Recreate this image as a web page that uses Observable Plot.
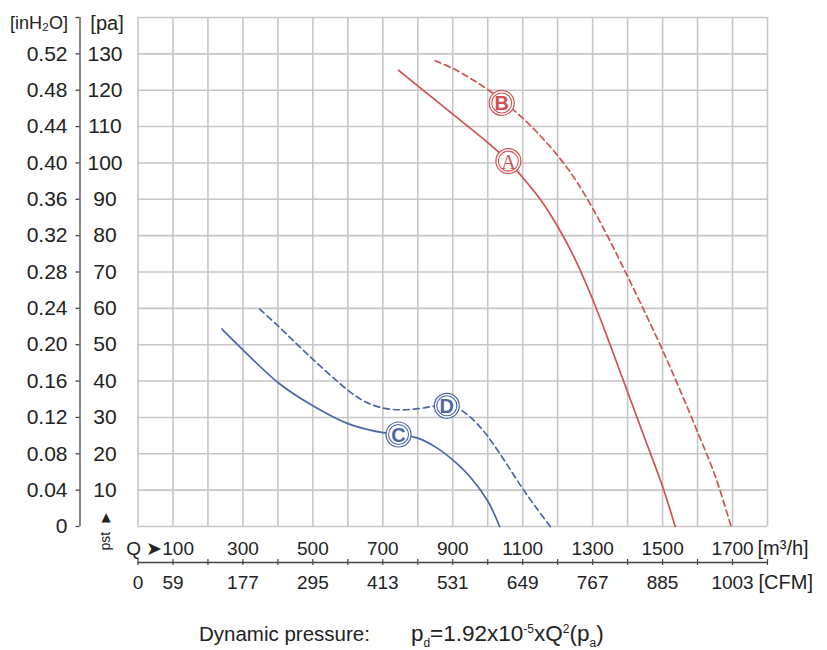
<!DOCTYPE html>
<html>
<head>
<meta charset="utf-8">
<script src="https://cdn.jsdelivr.net/npm/d3@7"></script>
<script src="https://cdn.jsdelivr.net/npm/@observablehq/plot@0.6"></script>
<style>
  html, body { margin: 0; padding: 0; background: #fff; }
  #chart svg { display: block; }
  #caption { font-family: "Liberation Sans", Arial, sans-serif; font-size: 20.5px; color: #222;
             text-align: left; width: 827px; margin-top: 17px; line-height: 22px; padding-left: 199px; box-sizing: border-box; white-space: nowrap; }
  #caption .f { font-size: 22.5px; }
  #caption sub, #caption sup { font-size: 12px; }
  #caption .gap { display: inline-block; width: 41px; }
</style>
</head>
<body>
<div id="chart"></div>
<div id="caption">Dynamic pressure:<span class="gap"></span><span class="f">p<sub>d</sub>=1.92x10<sup>-5</sup>xQ<sup>2</sup>(p<sub>a</sub>)</span></div>
<script>
// ---- axis tick data ----
const m3hTicks = [300, 500, 700, 900, 1100, 1300, 1500, 1700];
const cfmPos = [0, 100, 300, 500, 700, 900, 1100, 1300, 1500, 1700];
const cfmLabels = ["0", "59", "177", "295", "413", "531", "649", "767", "885", "1003"];
const paTicks = [10, 20, 30, 40, 50, 60, 70, 80, 90, 100, 110, 120, 130];
const inh2oTicks = [0, 10, 20, 30, 40, 50, 60, 70, 80, 90, 100, 110, 120, 130];
const inh2oLabels = ["0", "0.04", "0.08", "0.12", "0.16", "0.20", "0.24", "0.28", "0.32", "0.36", "0.40", "0.44", "0.48", "0.52"];
const gridQ = d3.range(0, 1801, 100);
const gridP = d3.range(0, 141, 10);

// ---- curve data (Q in m3/h, static pressure in Pa) ----
const curveA_Q = [745, 800, 900, 1000, 1059, 1100, 1150, 1200, 1250, 1300, 1350, 1400, 1450, 1500, 1536];
const curveA_P = [125.5, 121.2, 113.4, 105.6, 100.5, 96, 90, 82.5, 73.5, 62.5, 50, 37, 24, 11, 0];
const curveB_Q = [850, 900, 950, 1000, 1050, 1100, 1150, 1200, 1250, 1300, 1350, 1400, 1450, 1500, 1550, 1600, 1650, 1696];
const curveB_P = [128.1, 126, 123.3, 120.2, 116.5, 112.3, 107.5, 102, 95.5, 87.5, 78.5, 68.8, 58.8, 48.5, 37.5, 26, 14, 0];
const curveC_Q = [240, 300, 400, 500, 600, 700, 750, 800, 850, 900, 950, 1000, 1034];
const curveC_P = [54.3, 48.6, 39.6, 33.2, 28.3, 25.8, 25.3, 24.3, 21.9, 18.3, 13.6, 7.0, 0];
const curveD_Q = [348, 400, 500, 600, 650, 700, 750, 800, 850, 883, 920, 960, 1000, 1050, 1100, 1140, 1179];
const curveD_P = [59.8, 55.2, 46.0, 37.5, 34.3, 32.6, 32.1, 32.4, 33.1, 33.2, 32.2, 29.2, 24.8, 17.8, 10.4, 5, 0];

// ---- curve label badges ----
const badgeText = ["A", "B", "C", "D"];
const badgeQ = [1059, 1040, 745, 883];
const badgeP = [100.5, 116.5, 25.3, 33.2];
const badgeColor = ["#d05252", "#d05252", "#4d66a8", "#4d66a8"];

const red = "#d05252", blue = "#4d66a8";
const toRows = (Q, P) => Q.map((q, i) => ({q, p: P[i]}));
const A = toRows(curveA_Q, curveA_P), B = toRows(curveB_Q, curveB_P);
const C = toRows(curveC_Q, curveC_P), D = toRows(curveD_Q, curveD_P);
const badges = badgeText.map((t, i) => ({t, q: badgeQ[i], p: badgeP[i], c: badgeColor[i]}));
const cfmRows = cfmPos.map((q, i) => ({q, label: cfmLabels[i]}));
const inhRows = inh2oTicks.map((p, i) => ({p, inh: inh2oLabels[i]}));

const ink = "#222";
const gridColor = "#c6c6c6";

const chart = Plot.plot({
  width: 827,
  height: 600,
  marginTop: 17,
  marginBottom: 74,
  marginLeft: 137.5,
  marginRight: 60,
  x: {domain: [0, 1800], axis: null},
  y: {domain: [0, 140], axis: null},
  style: {fontFamily: "'Liberation Sans', Arial, sans-serif", fontSize: "21px", color: ink, background: "#fff", overflow: "visible"},
  marks: [
    // grid
    Plot.ruleX(gridQ, {stroke: gridColor, strokeWidth: 1.6}),
    Plot.ruleY(gridP, {stroke: gridColor, strokeWidth: 1.6}),
    // curves
    Plot.line(A, {x: "q", y: "p", stroke: red, strokeWidth: 1.7, curve: "catmull-rom"}),
    Plot.line(B, {x: "q", y: "p", stroke: red, strokeWidth: 1.7, strokeDasharray: "6,4", curve: "catmull-rom"}),
    Plot.line(C, {x: "q", y: "p", stroke: blue, strokeWidth: 1.7, curve: "catmull-rom"}),
    Plot.line(D, {x: "q", y: "p", stroke: blue, strokeWidth: 1.7, strokeDasharray: "6,4", curve: "catmull-rom"}),
    // badges
    Plot.dot(badges, {x: "q", y: "p", r: 12.5, fill: "#fff", stroke: "c", strokeWidth: 1.2}),
    Plot.dot(badges, {x: "q", y: "p", r: 10, fill: "none", stroke: "c", strokeWidth: 1.1}),
    Plot.text(badges.filter(d => d.t === "A"), {x: "q", y: "p", text: "t", fill: "c", fontSize: 20, fontFamily: "'Liberation Serif', serif", dy: 1}),
    Plot.text(badges.filter(d => d.t !== "A"), {x: "q", y: "p", text: "t", fill: "c", fontSize: 20, fontWeight: 600, dy: 1}),
    // left axes: pa labels (centered) and inH2O labels (right-aligned)
    Plot.text(paTicks, {x: () => 0, y: d => d, text: d => String(d), dx: -33, textAnchor: "middle", fill: ink, fontSize: 21}),
    Plot.text(inhRows, {x: () => 0, y: "p", text: "inh", dx: -70.5, textAnchor: "end", fill: ink, fontSize: 21}),
    Plot.ruleX([0], {y1: 0, y2: 140, dx: -58, stroke: "#444", strokeWidth: 1.3}),
    Plot.ruleY(gridP, {x1: () => 0, x2: () => 0, insetLeft: -4, dx: -58, stroke: "#444", strokeWidth: 1.3}),
    Plot.text(["[inH₂O]"], {x: () => 0, y: () => 140, text: d => d, dx: -70, dy: 6, textAnchor: "end", fill: ink, fontSize: 18}),
    Plot.text(["[pa]"], {x: () => 0, y: () => 140, text: d => d, dx: -31, dy: 6, textAnchor: "middle", fill: ink, fontSize: 20}),
    Plot.text(["pst"], {x: () => 0, y: () => 0, text: d => d, dx: -32, dy: 24, rotate: -90, textAnchor: "start", fill: ink, fontSize: 14}),
    Plot.text(["▲"], {x: () => 0, y: () => 0, text: d => d, dx: -32, dy: -9, lineAnchor: "middle", fill: ink, fontSize: 12, fontFamily: "'DejaVu Sans', sans-serif"}),
    // bottom m3/h labels
    Plot.text(m3hTicks, {x: d => d, text: d => String(d), frameAnchor: "bottom", dy: 22, lineAnchor: "middle", fill: ink, fontSize: 19}),
    Plot.text(["Q ➤100"], {x: () => 100, frameAnchor: "bottom", text: d => d, dx: 21, dy: 22, textAnchor: "end", lineAnchor: "middle", fill: ink, fontSize: 19}),
    Plot.text(["[m³/h]"], {x: () => 1800, frameAnchor: "bottom", text: d => d, dx: -10, dy: 22, textAnchor: "start", lineAnchor: "middle", fill: ink, fontSize: 20}),
    // CFM axis
    Plot.ruleY([0], {dy: 36, stroke: "#444", strokeWidth: 1.4}),
    Plot.ruleX(gridQ, {y1: () => 0, y2: () => 0, insetTop: -3, insetBottom: -3, dy: 36, stroke: "#444", strokeWidth: 1.2}),
    Plot.text(cfmRows, {x: "q", text: "label", frameAnchor: "bottom", dy: 56, lineAnchor: "middle", fill: ink, fontSize: 19}),
    Plot.text(["[CFM]"], {x: () => 1800, frameAnchor: "bottom", text: d => d, dx: -9, dy: 56, textAnchor: "start", lineAnchor: "middle", fill: ink, fontSize: 20})
  ]
});
document.getElementById("chart").appendChild(chart);
</script>
</body>
</html>
